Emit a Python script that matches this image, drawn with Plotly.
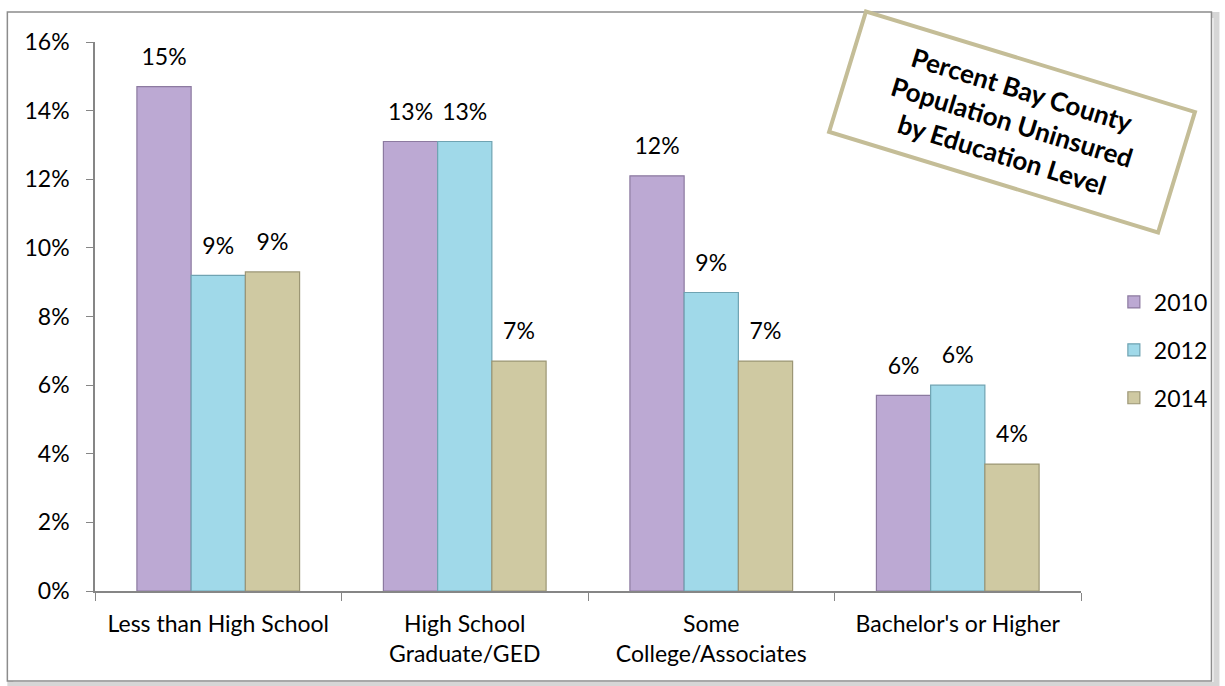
import plotly.graph_objects as go

categories = ["Less than High School", "High School<br>Graduate/GED", "Some<br>College/Associates", "Bachelor's or Higher"]
years = ["2010", "2012", "2014"]
values_2010 = [0.147, 0.131, 0.121, 0.057]
values_2012 = [0.092, 0.131, 0.087, 0.060]
values_2014 = [0.093, 0.067, 0.067, 0.037]
series_values = [values_2010, values_2012, values_2014]
fill_colors = ["#BCA9D3", "#A0D9E9", "#CFC9A2"]
line_colors = ["#8C7AA0", "#6FA3B2", "#9C9675"]

FONT = "Lato"
FS = 23

fig = go.Figure()
for i, (yr, vals) in enumerate(zip(years, series_values)):
    fig.add_trace(go.Bar(
        x=categories, y=vals, name=yr,
        marker=dict(color=fill_colors[i], line=dict(color=line_colors[i], width=1.2)),
        offsetgroup=yr, legendgroup=yr, hoverinfo="skip",
    ))
for i, (yr, vals) in enumerate(zip(years, series_values)):
    fig.add_trace(go.Scatter(
        x=categories, y=vals, mode="markers+text",
        marker=dict(size=24, color="rgba(0,0,0,0)"),
        text=[f"{v:.0%}" for v in vals], textposition="top center",
        textfont=dict(family=FONT, size=FS, color="#000000"),
        offsetgroup=yr,
        showlegend=False, cliponaxis=False, hoverinfo="skip",
    ))

L, R, T, B = 95, 140, 42, 95
W, H = 1225, 686
pw, ph = W - L - R, H - T - B

def px_x(x):
    return (x - L) / pw

def px_y(y):
    return (H - B - y) / ph

shapes = [
    dict(type="rect", xref="paper", yref="paper",
         x0=px_x(10), x1=px_x(1221), y0=px_y(685), y1=px_y(15),
         line=dict(color="#D6D6D6", width=6), layer="below"),
    dict(type="rect", xref="paper", yref="paper",
         x0=px_x(7), x1=px_x(1216), y0=px_y(681), y1=px_y(12),
         line=dict(color="#8C8C8C", width=1.5), fillcolor="white", layer="below"),
]

fig.update_layout(
    width=W, height=H,
    margin=dict(l=L, r=R, t=T, b=B),
    paper_bgcolor="white", plot_bgcolor="white",
    barmode="group", bargap=0.34, bargroupgap=0,
    scattermode="group", scattergap=0.34,
    font=dict(family=FONT, size=FS, color="#000000"),
    showlegend=True,
    legend=dict(x=px_x(1118), y=px_y(350), xanchor="left", yanchor="middle",
                font=dict(family=FONT, size=FS), tracegroupgap=15,
                itemwidth=30, bgcolor="rgba(0,0,0,0)"),
    xaxis=dict(type="category", showline=True, linecolor="#868686", linewidth=1.5,
               ticks="outside", tickson="boundaries", ticklen=8, tickcolor="#868686",
               tickfont=dict(family=FONT, size=FS), showgrid=False,
               ticklabelstandoff=12),
    yaxis=dict(range=[0, 0.16], dtick=0.02, tickformat=".0%", showline=True,
               linecolor="#868686", linewidth=1.5, ticks="outside", ticklen=7,
               tickcolor="#868686", tickfont=dict(family=FONT, size=FS),
               showgrid=False, zeroline=False, ticklabelstandoff=12),
    shapes=shapes,
    annotations=[dict(
        xref="paper", yref="paper", x=px_x(1016), y=px_y(122),
        xanchor="center", yanchor="middle",
        text="<b>Percent Bay County<br>Population Uninsured<br>by Education Level</b>",
        font=dict(family=FONT, size=26, color="#000000"),
        textangle=17, showarrow=False, align="center",
        bordercolor="#C4BD97", borderwidth=4, bgcolor="white",
        width=338, height=120,
    )],
)

fig.write_html("out.html", config={"displayModeBar": False},
               post_script="document.body.style.margin='0px';")
